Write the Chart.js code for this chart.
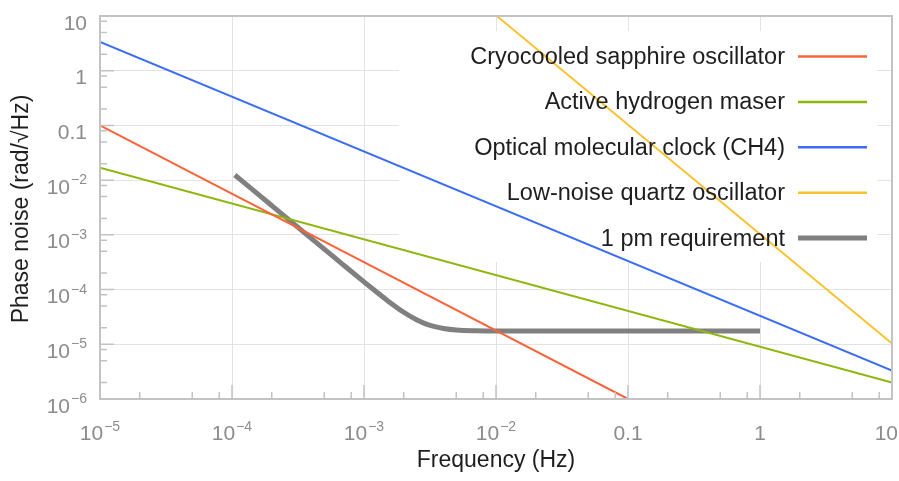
<!DOCTYPE html>
<html>
<head>
<meta charset="utf-8">
<script src="https://cdn.jsdelivr.net/npm/chart.js@4.4.1/dist/chart.umd.min.js"></script>
<style>
  html, body { margin: 0; padding: 0; background: #fff; }
</style>
</head>
<body>
<canvas id="noiseChart" width="899" height="481"></canvas>
<script>
// axis ticks
const xTickValues = [1e-5, 1e-4, 1e-3, 1e-2, 0.1, 1, 10];
const xTickLabels = ["10^−5", "10^−4", "10^−3", "10^−2", "0.1", "1", "10"];
const yTickValues = [1e-6, 1e-5, 1e-4, 1e-3, 1e-2, 0.1, 1, 10];
const yTickLabels = ["10^−6", "10^−5", "10^−4", "10^−3", "10^−2", "0.1", "1", "10"];

// series (frequency in Hz, phase noise in rad/sqrt(Hz))
const seriesNames = [
  "Cryocooled sapphire oscillator",
  "Active hydrogen maser",
  "Optical molecular clock (CH4)",
  "Low-noise quartz oscillator",
  "1 pm requirement"
];
const sapphireFreq = [1e-5, 0.1];
const sapphireNoise = [0.1, 1e-6];
const maserFreq = [1e-5, 10];
const maserNoise = [0.0168, 2.0e-6];
const clockFreq = [1e-5, 10];
const clockNoise = [3.35, 3.3e-6];
const quartzFreq = [0.01, 10];
const quartzNoise = [10.3, 1.03e-5];
const requirementFreq = [1.05e-4, 1.5e-4, 2e-4, 3e-4, 5e-4, 7e-4, 1e-3, 1.2e-3, 1.5e-3, 2e-3, 2.5e-3, 3e-3, 3.5e-3, 4e-3, 5e-3, 7e-3, 1e-2, 0.1, 1];
const requirementNoise = [0.0124, 6.1e-3, 3.43e-3, 1.52e-3, 5.5e-4, 2.8e-4, 1.38e-4, 9.7e-5, 6.34e-5, 3.85e-5, 2.81e-5, 2.32e-5, 2.08e-5, 1.95e-5, 1.83e-5, 1.77e-5, 1.75e-5, 1.75e-5, 1.75e-5];

const colors = ["#fb643a", "#8db70c", "#3b6cf6", "#fcc12f", "#808080"];
const widths = [2, 2, 2, 2, 5];

const FONT = "'Liberation Sans', Arial, sans-serif";

function toPoints(xs, ys) {
  return xs.map((x, i) => ({ x: x, y: ys[i] }));
}

const pairs = [
  [sapphireFreq, sapphireNoise],
  [maserFreq, maserNoise],
  [clockFreq, clockNoise],
  [quartzFreq, quartzNoise],
  [requirementFreq, requirementNoise]
];

const datasets = pairs.map((p, i) => ({
  label: seriesNames[i],
  data: toPoints(p[0], p[1]),
  borderColor: colors[i],
  borderWidth: widths[i],
  showLine: true,
  pointRadius: 0,
  fill: false,
  clip: 0,
  cubicInterpolationMode: i === 4 ? "monotone" : "default"
}));

// draws "10^-5" style labels with a raised exponent
function drawPowerLabel(ctx, text, x, baseline, align) {
  const parts = text.split("^");
  ctx.font = "21px " + FONT;
  const wBase = ctx.measureText(parts[0]).width;
  let wExp = 0;
  if (parts[1]) {
    ctx.font = "14px " + FONT;
    wExp = ctx.measureText(parts[1]).width + 1;
  }
  const total = wBase + wExp;
  let left = align === "right" ? x - total : x - total / 2;
  if (left + total > 898) left = 898 - total;
  ctx.textAlign = "left";
  ctx.textBaseline = "alphabetic";
  ctx.font = "21px " + FONT;
  ctx.fillText(parts[0], left, baseline);
  if (parts[1]) {
    ctx.font = "14px " + FONT;
    ctx.fillText(parts[1], left + wBase + 1, baseline - 9.5);
  }
}

const framePlugin = {
  id: "frame",
  beforeDatasetsDraw(chart) {
    const ctx = chart.ctx;
    ctx.save();
    ctx.fillStyle = "#fff";
    ctx.fillRect(399, 31, 478, 231);
    ctx.restore();
  },
  afterDatasetsDraw(chart) {
    const ctx = chart.ctx;
    const a = chart.chartArea;
    const xs = chart.scales.x, ys = chart.scales.y;
    ctx.save();

    // frame
    ctx.strokeStyle = "#c3c3c3";
    ctx.lineWidth = 2;
    ctx.strokeRect(a.left, a.top, a.right - a.left, a.bottom - a.top);

    // inward ticks on left and bottom
    ctx.lineWidth = 1.5;
    ctx.beginPath();
    xTickValues.forEach((d, i) => {
      const px = xs.getPixelForValue(d);
      ctx.moveTo(px, a.bottom);
      ctx.lineTo(px, a.bottom - 14);
      if (i < xTickValues.length - 1) {
        [2, 5, 8].forEach(m => {
          const mx = xs.getPixelForValue(d * m);
          ctx.moveTo(mx, a.bottom);
          ctx.lineTo(mx, a.bottom - 7);
        });
      }
    });
    yTickValues.forEach((d, i) => {
      const py = ys.getPixelForValue(d);
      ctx.moveTo(a.left, py);
      ctx.lineTo(a.left + 14, py);
      if (i < yTickValues.length - 1) {
        [2, 5, 8].forEach(m => {
          const my = ys.getPixelForValue(d * m);
          ctx.moveTo(a.left, my);
          ctx.lineTo(a.left + 7, my);
        });
      }
    });
    ctx.stroke();

    // tick labels
    ctx.fillStyle = "#8c8c8c";
    xTickValues.forEach((v, i) => {
      drawPowerLabel(ctx, xTickLabels[i], xs.getPixelForValue(v), 440, "center");
    });
    yTickValues.forEach((v, i) => {
      drawPowerLabel(ctx, yTickLabels[i], 87, ys.getPixelForValue(v) + 13.5, "right");
    });

    // axis titles
    ctx.fillStyle = "#1e1e1e";
    ctx.font = "23px " + FONT;
    ctx.textAlign = "center";
    ctx.textBaseline = "alphabetic";
    ctx.fillText("Frequency (Hz)", (a.left + a.right) / 2, 467);
    ctx.save();
    ctx.translate(28, 209);
    ctx.rotate(-Math.PI / 2);
    ctx.fillText("Phase noise (rad/√Hz)", 0, 0);
    ctx.restore();

    // legend
    ctx.textAlign = "right";
    ctx.textBaseline = "middle";
    ctx.font = "23.5px " + FONT;
    seriesNames.forEach((name, i) => {
      const y = 56.5 + i * 45.4;
      ctx.fillStyle = "#1e1e1e";
      ctx.fillText(name, 785, y + 1);
      ctx.strokeStyle = colors[i];
      ctx.lineWidth = i === 4 ? 5 : 2.5;
      ctx.beginPath();
      ctx.moveTo(798, y);
      ctx.lineTo(867, y);
      ctx.stroke();
    });

    ctx.restore();
  }
};

new Chart(document.getElementById("noiseChart").getContext("2d"), {
  type: "scatter",
  data: { datasets: datasets },
  options: {
    responsive: false,
    devicePixelRatio: 1,
    animation: false,
    layout: { padding: { top: 16, right: 7, left: 0, bottom: 0 } },
    plugins: { legend: { display: false }, tooltip: { enabled: false } },
    scales: {
      x: {
        type: "logarithmic",
        min: 1e-5,
        max: 10,
        ticks: { display: false },
        grid: { color: "#e3e3e3", lineWidth: 1, drawTicks: false },
        border: { display: false },
        afterBuildTicks: scale => { scale.ticks = xTickValues.map(v => ({ value: v })); },
        afterFit: scale => { scale.height = 82; }
      },
      y: {
        type: "logarithmic",
        min: 1e-6,
        max: 10,
        ticks: { display: false },
        grid: { color: "#e3e3e3", lineWidth: 1, drawTicks: false },
        border: { display: false },
        afterBuildTicks: scale => { scale.ticks = yTickValues.map(v => ({ value: v })); },
        afterFit: scale => { scale.width = 100; }
      }
    }
  },
  plugins: [framePlugin]
});
</script>
</body>
</html>
